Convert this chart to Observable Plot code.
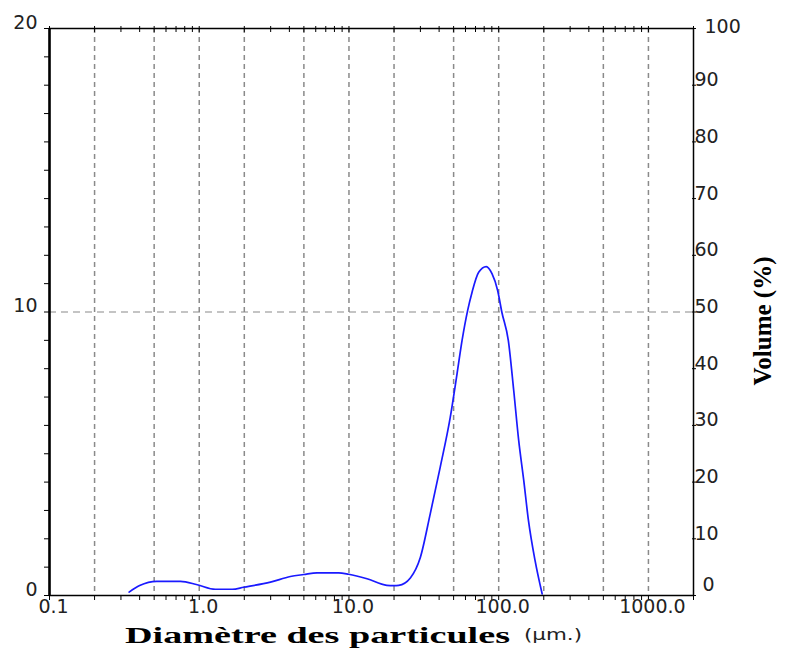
<!DOCTYPE html>
<html><head><meta charset="utf-8">
<script src="https://cdn.jsdelivr.net/npm/d3@7"></script>
<script src="https://cdn.jsdelivr.net/npm/@observablehq/plot@0.6"></script>
<style>body{margin:0;background:#fff}</style>
</head><body><div id="chart"></div>
<script>
// Particle diameter (µm) and volume (%)
const sizes = [0.34, 0.40, 0.52, 0.75, 0.97, 1.28, 1.66, 1.98, 2.99, 4.06, 4.99, 6.12, 8.53, 9.95, 13.2, 17.9, 19.9, 21.5, 25.7, 30.0, 34.9, 40.7, 47.5, 52.7, 56.9, 62.0, 66.4, 73.5, 82.6, 90.2, 98.4, 105, 116, 126, 136, 147, 158, 175, 195];
const volumes = [0.12, 0.35, 0.50, 0.50, 0.38, 0.22, 0.22, 0.29, 0.47, 0.67, 0.74, 0.80, 0.80, 0.75, 0.59, 0.36, 0.35, 0.36, 0.62, 1.35, 2.88, 4.53, 6.29, 7.82, 8.99, 10.05, 10.70, 11.40, 11.60, 11.35, 10.76, 9.99, 8.99, 7.23, 5.47, 4.06, 2.65, 1.23, 0.06];

const xGrid = [0.2, 0.5, 1, 2, 5, 10, 20, 50, 100, 200, 500, 1000];
const xMinorTicks = [0.1,0.2,0.3,0.4,0.5,0.6,0.7,0.8,0.9,1,2,3,4,5,6,7,8,9,10,20,30,40,50,60,70,80,90,100,200,300,400,500,600,700,800,900,1000,2000];
const xLabelValues = [0.1, 1, 10, 100, 1000];
const xLabelTexts = ["0.1", "1.0", "10.0", "100.0", "1000.0"];
const leftTicks = [0,1,2,3,4,5,6,7,8,9,10,11,12,13,14,15,16,17,18,19,20];
const leftLabels = [0, 10, 20];
const rightLabels = [0, 10, 20, 30, 40, 50, 60, 70, 80, 90, 100];

const rows = sizes.map((s, i) => ({size: s, vol: volumes[i]}));

const chart = Plot.plot({
  width: 787, height: 651,
  marginLeft: 49, marginRight: 94, marginTop: 28, marginBottom: 56,
  x: {type: "log", domain: [0.1, 2000]},
  y: {domain: [0, 20]},
  style: {fontFamily: "DejaVu Sans", fontSize: "19px", background: "white", color: "black"},
  marks: [
    Plot.ruleX(xGrid, {stroke: "#8a8a8a", strokeDasharray: "5,4", strokeWidth: 1.5}),
    Plot.ruleY([10], {stroke: "#8a8a8a", strokeDasharray: "7,5", strokeWidth: 1.2}),
    Plot.axisX({anchor: "bottom", ticks: xMinorTicks, tickSize: 5, fill: "none", stroke: "black", label: null}),
    Plot.axisX({anchor: "top", ticks: xMinorTicks, tickSize: 6, dy: 3, fill: "none", stroke: "black", label: null}),
    Plot.axisY({anchor: "left", ticks: leftTicks, tickSize: 5, fill: "none", stroke: "black", label: null}),
    Plot.axisY({anchor: "right", ticks: rightLabels.map(v => v / 5), tickSize: 4, dx: -2, fill: "none", stroke: "black", label: null}),
    Plot.text(leftLabels, {y: d => d, text: d => String(d), frameAnchor: "left", textAnchor: "end", dx: -12, dy: -6, fontSize: 19, fill: "#222"}),
    Plot.text(rightLabels.filter(v => v > 0 && v < 100), {y: d => d / 5, text: d => String(d), frameAnchor: "right", textAnchor: "start", dx: 1, dy: -5, fontSize: 19, fill: "#222"}),
    Plot.text([0], {y: d => d / 5, text: d => String(d), frameAnchor: "right", textAnchor: "start", dx: 9, dy: -11, fontSize: 19, fill: "#222"}),
    Plot.text([100], {y: d => d / 5, text: d => String(d), frameAnchor: "right", textAnchor: "start", dx: 11, dy: -2, fontSize: 19, fill: "#222"}),
    Plot.text(xLabelValues, {x: d => d, text: (d, i) => xLabelTexts[i], frameAnchor: "bottom", lineAnchor: "top", dx: 4, dy: 4, fontSize: 19, fill: "#222"}),
    Plot.line(rows, {x: "size", y: "vol", stroke: "#1a1aff", strokeWidth: 1.7, curve: "monotone-x"}),
    Plot.frame({stroke: "black", strokeWidth: 1.5}),
    Plot.ruleX([0.1], {stroke: "black", strokeWidth: 2.5})
  ]
});

const svg = d3.select(chart);
svg.append("text")
  .attr("x", 125).attr("y", 643)
  .attr("text-anchor", "start")
  .attr("font-family", "Liberation Serif").attr("font-weight", "bold").attr("font-size", 23)
  .attr("textLength", 385).attr("lengthAdjust", "spacingAndGlyphs")
  .attr("fill", "black")
  .text("Diamètre des particules");
svg.append("text")
  .attr("x", 524).attr("y", 640)
  .attr("text-anchor", "start")
  .attr("font-family", "DejaVu Sans").attr("font-size", 16)
  .attr("textLength", 58).attr("lengthAdjust", "spacingAndGlyphs")
  .attr("fill", "#222")
  .text("(µm.)");
svg.append("text")
  .attr("transform", "translate(771,321) rotate(-90)")
  .attr("text-anchor", "middle")
  .attr("font-family", "Liberation Serif").attr("font-weight", "bold").attr("font-size", 25)
  .attr("fill", "black")
  .text("Volume (%)");

document.getElementById("chart").appendChild(chart);
</script>
</body></html>
